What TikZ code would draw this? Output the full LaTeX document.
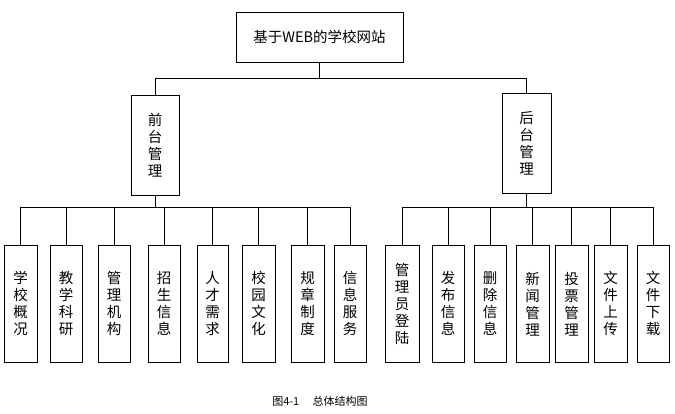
\documentclass[tikz,border=0pt]{standalone}
\usepackage{fontspec}
\setmainfont{Liberation Serif}
\newfontfamily\cjk{Noto Sans CJK SC}
\begin{document}
\begin{tikzpicture}[x=1pt,y=-1pt,
  box/.style={draw,semithick,inner sep=0pt,font=\cjk\fontsize{14.5}{17}\selectfont,align=center},
  link/.style={draw,semithick}]
\useasboundingbox (0,0) rectangle (675,414);
\node[box,minimum width=167pt,minimum height=50pt] (root) at (319.5,37) {基于WEB的学校网站};
\node[box,minimum width=48pt,minimum height=100pt] (L) at (155,145) {前\\台\\管\\理};
\node[box,minimum width=49pt,minimum height=100pt] (R) at (526.5,143) {后\\台\\管\\理};
\coordinate (bar) at (319.5,78);
\draw[link] (root.south) -- (bar);
\draw[link] (L.north) -- (155,78) -- (526.5,78) -- (R.north);
\coordinate (lb) at (155,207);
\coordinate (rb) at (526.5,207);
\draw[link] (L.south) -- (lb);
\draw[link] (R.south) -- (rb);
\foreach \n/\a/\b/\t in {l1/4/37/学\\校\\概\\况, l2/50/82/教\\学\\科\\研, l3/98/130/管\\理\\机\\构, l4/148/180/招\\生\\信\\息, l5/197/228/人\\才\\需\\求, l6/242/275/校\\园\\文\\化, l7/291/324/规\\章\\制\\度, l8/334/366/信\\息\\服\\务}{
  \node[box,minimum width={\b-\a},minimum height=117pt,anchor=north] (\n) at ({(\a+\b)/2},245) {\t};
  \draw[link] (\n.north) |- (lb);
}
\foreach \n/\a/\b/\t in {r1/385/419/管\\理\\员\\登\\陆, r2/432/464/发\\布\\信\\息, r3/474/506/删\\除\\信\\息, r4/516/549/新\\闻\\管\\理, r5/555/588/投\\票\\管\\理, r6/594/627/文\\件\\上\\传, r7/637/669/文\\件\\下\\载}{
  \node[box,minimum width={\b-\a},minimum height=117pt,anchor=north] (\n) at ({(\a+\b)/2},245) {\t};
  \draw[link] (\n.north) |- (rb);
}
\node[font=\cjk\fontsize{11}{13}\selectfont] (cap) at (320,401) {图4-1\quad\ 总体结构图};
\end{tikzpicture}
\end{document}
